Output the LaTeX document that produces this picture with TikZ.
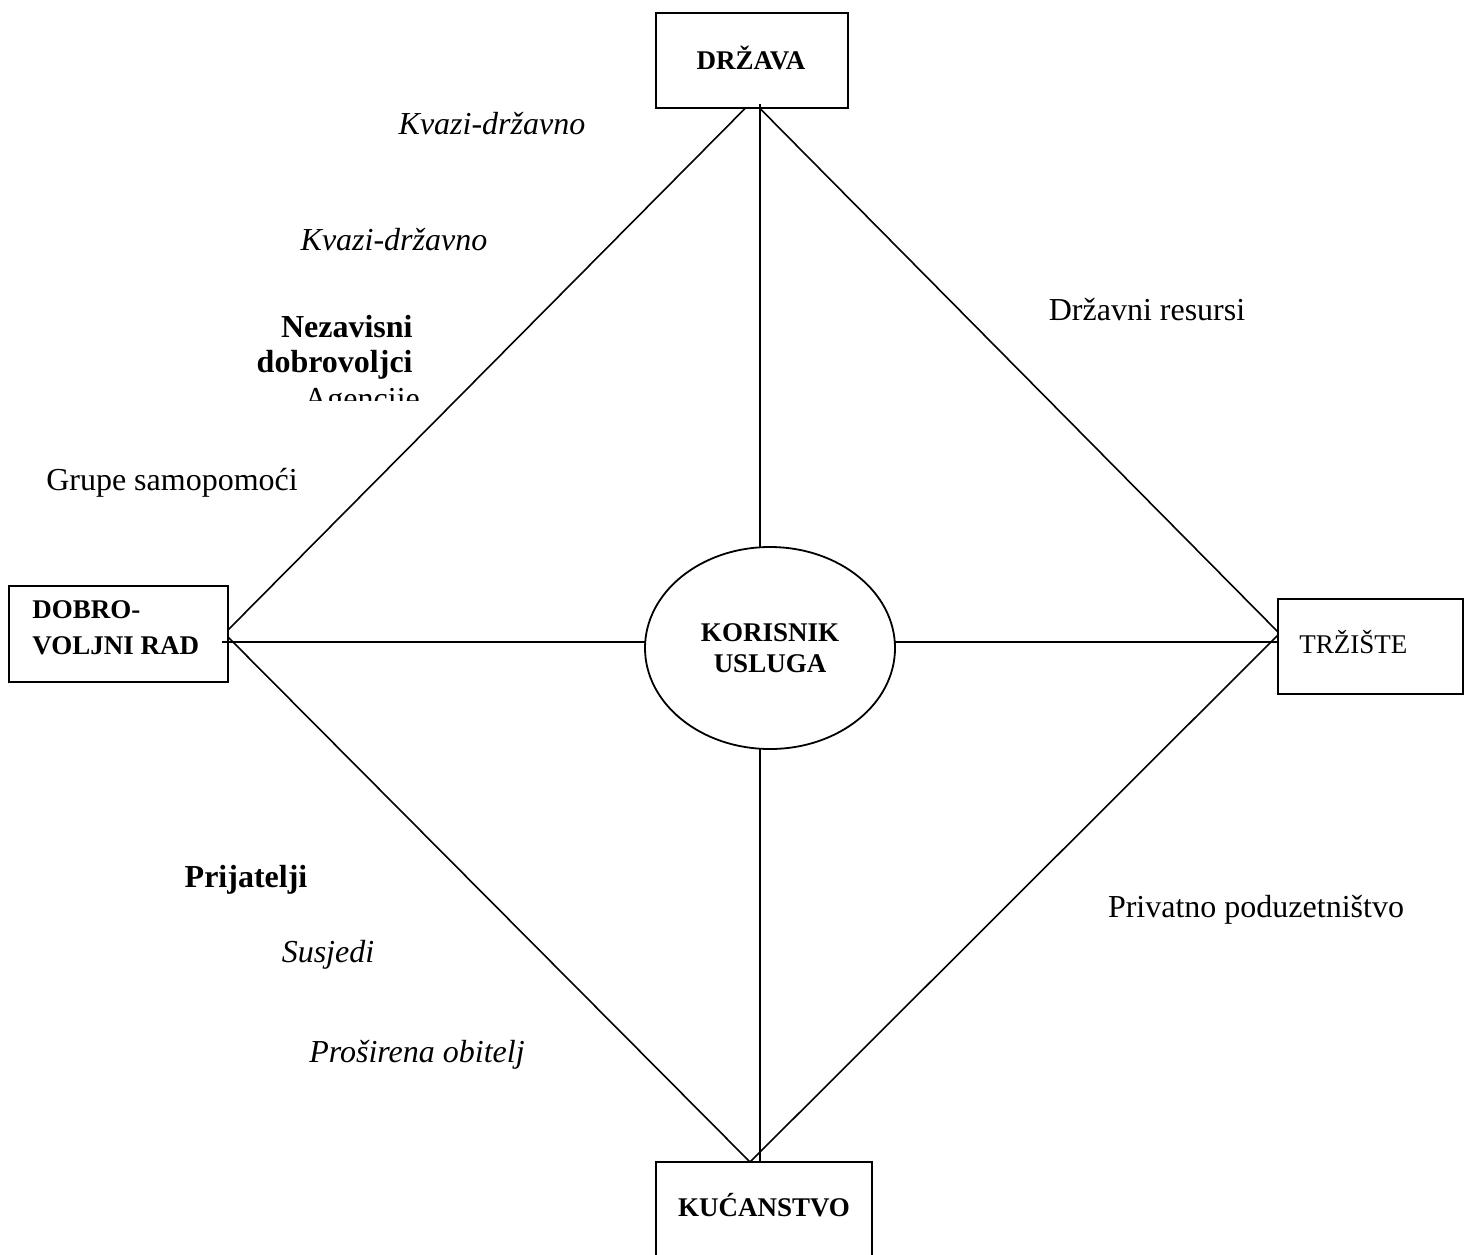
\documentclass[tikz,border=0pt]{standalone}
\usepackage{fontspec}
\setmainfont{Liberation Serif}
\usetikzlibrary{shapes.geometric}
\tikzset{
  boxnode/.style={draw, line width=0.9pt, inner sep=0pt},
  boxtext/.style={inner sep=0pt, font=\fontsize{13.5}{18}\selectfont\bfseries},
  ellnode/.style={draw, ellipse, line width=0.9pt, inner sep=0pt, minimum width=125pt, minimum height=101pt, align=center, font=\fontsize{13.5}{15.5}\selectfont\bfseries},
  conn/.style={line width=0.8pt},
  lab/.style={inner sep=0pt, font=\fontsize{16}{17.5}\selectfont},
}
\begin{document}
\begin{tikzpicture}[x=0.5pt,y=-0.5pt]
\useasboundingbox (0,0) rectangle (1465,1254);
\clip (0,0) rectangle (1465,1254);
% boxes
\node[boxnode, minimum width=96pt, minimum height=47.5pt] (st) at (752,60.5) {};
\node[boxtext] (stt) at (751,58) {DRŽAVA};
\node[boxnode, minimum width=109.5pt, minimum height=48pt] (dv) at (118.5,634) {};
\node[boxtext, anchor=west, align=left] (dvt) at (32,628) {DOBRO-\\VOLJNI RAD};
\node[boxnode, minimum width=92.5pt, minimum height=47.5pt] (tr) at (1370.5,646.5) {};
\node[boxtext, anchor=west, font=\fontsize{13.5}{15}\selectfont] (trt) at (1299,642) {TRŽIŠTE};
\node[boxnode, minimum width=108pt, minimum height=50pt] (ku) at (764,1212) {};
\node[boxtext] (kut) at (764,1205) {KUĆANSTVO};
\node[ellnode] (ku2) at (770,648) {KORISNIK\\USLUGA};
% connector end points
\coordinate (stL) at (745,108.5);
\coordinate (stR) at (760,108.5);
\coordinate (stV) at (760,104);
\coordinate (dvT) at (228,630);
\coordinate (dvB) at (228,637);
\coordinate (dvH) at (222,642);
\coordinate (trT) at (1278,632);
\coordinate (trB) at (1278,635);
\coordinate (trH) at (1278,642);
\coordinate (kuL) at (750,1162);
\coordinate (kuV) at (760,1162);
\coordinate (elT) at (760,547.5);
\coordinate (elB) at (760,748.5);
\coordinate (elL) at (645,642);
\coordinate (elR) at (895,642);
% connectors
\draw[conn] (stL) -- (dvT);
\draw[conn] (stR) -- (trT);
\draw[conn] (stV) -- (elT);
\draw[conn] (dvH) -- (elL);
\draw[conn] (elR) -- (trH);
\draw[conn] (dvB) -- (kuL);
\draw[conn] (trB) -- (kuL);
\draw[conn] (elB) -- (kuV);
% labels
\node[lab, font=\fontsize{16}{17.5}\selectfont\itshape] (k1) at (492,124) {Kvazi-državno};
\node[lab, font=\fontsize{16}{17.5}\selectfont\itshape] (k2) at (394,240) {Kvazi-državno};
\node[lab] (dr) at (1147,310) {Državni resursi};
\node[lab, font=\fontsize{16}{17.5}\selectfont\bfseries, align=right, anchor=east] (nd) at (413,347) {Nezavisni\\dobrovoljci};
\begin{scope}
\clip (250,370) rectangle (450,400);
\node[lab, anchor=north] (ag) at (362,388) {Agencije};
\end{scope}
\node[lab] (gs) at (172,483) {Grupe samopomoći};
\node[lab, font=\fontsize{16}{17.5}\selectfont\bfseries] (pr) at (246,880) {Prijatelji};
\node[lab, font=\fontsize{16}{17.5}\selectfont\itshape] (su) at (328,955) {Susjedi};
\node[lab, font=\fontsize{16}{17.5}\selectfont\itshape] (po) at (417,1055) {Proširena obitelj};
\node[lab] (pp) at (1256,910) {Privatno poduzetništvo};
\end{tikzpicture}
\end{document}
